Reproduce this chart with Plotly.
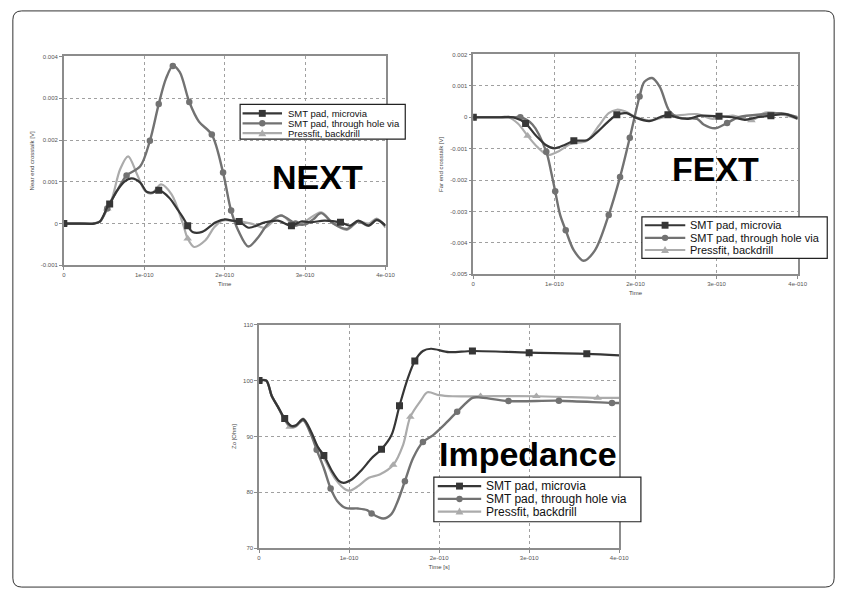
import plotly.graph_objects as go

W, H = 855, 597
FONT = "Liberation Sans, Arial, sans-serif"
TU = 1e-10  # time unit (s)

# ---------------- tick labels ----------------
x_tick_units = [0, 1, 2, 3, 4]
x_tick_text = ["0", "1e-010", "2e-010", "3e-010", "4e-010"]
next_ytick_vals = [-0.001, 0, 0.001, 0.002, 0.003, 0.004]
next_ytick_text = ["-0.001", "0", "0.001", "0.002", "0.003", "0.004"]
fext_ytick_vals = [-0.005, -0.004, -0.003, -0.002, -0.001, 0, 0.001, 0.002]
fext_ytick_text = ["-0.005", "-0.004", "-0.003", "-0.002", "-0.001", "0", "0.001", "0.002"]
imp_ytick_vals = [70, 80, 90, 100, 110]
imp_ytick_text = ["70", "80", "90", "100", "110"]

series_names = ["SMT pad, microvia", "SMT pad, through hole via", "Pressfit, backdrill"]

# ---------------- NEXT (time in 1e-10 s, value in mV) ----------------
next_micro_t = [0, 0.2, 0.375, 0.45, 0.54, 0.57, 0.66, 0.75, 0.845, 0.95, 1.03, 1.1, 1.18, 1.31, 1.42, 1.48,
                1.54, 1.60, 1.72, 1.89, 2.01, 2.09, 2.18, 2.30, 2.5, 2.66, 2.83, 2.95, 3.07, 3.24, 3.44, 3.56,
                3.66, 3.79, 3.89, 4.0]
next_micro_v = [0, 0, 0, 0.05, 0.39, 0.47, 0.78, 1.0, 1.08, 0.98, 0.76, 0.74, 0.80, 0.62, 0.32, 0.15,
                -0.05, -0.2, -0.2, 0.03, 0.1, 0.07, 0.05, -0.1, 0.03, 0.07, -0.05, 0.05, 0.03, 0.07, 0.03, -0.05,
                0.07, -0.05, 0.08, -0.05]
next_micro_mk = [0, 0.57, 1.18, 1.54, 2.18, 2.83, 3.44]

next_thru_t = [0, 0.2, 0.375, 0.45, 0.54, 0.57, 0.66, 0.78, 0.95, 1.07, 1.18, 1.27, 1.355, 1.44, 1.56, 1.68,
               1.84, 1.98, 2.08, 2.17, 2.295, 2.42, 2.54, 2.7, 2.88, 3.0, 3.1, 3.2, 3.35, 3.52, 3.66, 3.79,
               3.89, 4.0]
next_thru_v = [0, 0, 0, 0.05, 0.36, 0.47, 0.78, 1.15, 1.37, 1.98, 2.86, 3.47, 3.77, 3.63, 2.91, 2.44,
               2.13, 1.22, 0.31, -0.17, -0.55, -0.32, 0.0, 0.19, 0.0, -0.02, 0.1, 0.25, 0.0, -0.13, 0.05, -0.05,
               0.1, -0.05]
next_thru_mk = [0, 0.54, 0.78, 1.07, 1.18, 1.355, 1.56, 1.84, 1.98, 2.08, 2.88]

next_press_t = [0, 0.2, 0.375, 0.45, 0.54, 0.60, 0.70, 0.80, 0.91, 1.01, 1.09, 1.21, 1.34, 1.48, 1.54, 1.62,
                1.76, 1.87, 1.97, 2.09, 2.33, 2.5, 2.7, 2.87, 3.0, 3.2, 3.35, 3.52, 3.66, 3.79, 3.89, 4.0]
next_press_v = [0, 0, 0, 0.05, 0.36, 0.6, 1.3, 1.61, 1.18, 0.78, 0.72, 0.94, 0.7, 0.0, -0.36, -0.56,
                -0.4, -0.09, 0.07, 0.07, 0.0, -0.1, 0.2, -0.05, 0.05, 0.27, 0.0, -0.15, 0.05, 0.0, 0.12, -0.1]
next_press_mk = [0, 0.54, 1.54]

# ---------------- FEXT (time in 1e-10 s, value in mV) ----------------
fext_micro_t = [0, 0.3, 0.49, 0.645, 0.775, 0.9, 1.0, 1.12, 1.24, 1.40, 1.50, 1.67, 1.77, 1.89, 2.01, 2.17,
                2.30, 2.40, 2.5, 2.65, 2.8, 3.03, 3.2, 3.35, 3.5, 3.67, 3.85, 4.0]
fext_micro_v = [0, 0, 0, -0.2, -0.59, -0.89, -0.99, -0.89, -0.75, -0.73, -0.54, -0.125, 0.08, 0.13, -0.02, -0.12,
                0.0, 0.08, 0.0, -0.05, 0.05, 0.03, 0.0, -0.08, 0.0, 0.05, 0.1, -0.05]
fext_micro_mk = [0, 0.645, 1.24, 1.77, 2.40, 3.03, 3.67]

fext_thru_t = [0, 0.3, 0.49, 0.58, 0.73, 0.90, 0.96, 1.01, 1.07, 1.14, 1.24, 1.36, 1.50, 1.67, 1.81, 1.93,
               2.05, 2.11, 2.205, 2.30, 2.42, 2.54, 2.76, 2.84, 2.98, 3.13, 3.27, 3.59, 3.8, 4.0]
fext_thru_v = [0, 0, 0, 0.0, -0.23, -1.1, -1.74, -2.36, -3.1, -3.6, -4.24, -4.57, -4.24, -3.11, -1.9, -0.65,
               0.66, 1.13, 1.25, 0.97, 0.19, -0.02, -0.05, -0.23, -0.35, -0.18, 0.0, 0.1, 0.13, 0.0]
fext_thru_mk = [0, 0.58, 0.90, 1.01, 1.14, 1.67, 1.81, 1.93, 2.05, 3.13]

fext_press_t = [0, 0.3, 0.43, 0.55, 0.67, 0.795, 0.92, 1.04, 1.20, 1.40, 1.545, 1.67, 1.77, 1.87, 2.01, 2.17,
                2.35, 2.5, 2.76, 2.95, 3.2, 3.43, 3.6, 3.8, 4.0]
fext_press_v = [0, 0, 0, -0.2, -0.59, -0.96, -1.2, -1.1, -0.85, -0.75, -0.28, 0.13, 0.24, 0.19, 0.0, -0.1,
                0.0, 0.05, 0.1, -0.05, 0.05, -0.1, 0.15, 0.1, -0.05]
fext_press_mk = [0, 0.67, 3.43]

# ---------------- Impedance (time in 1e-10 s, value in Ohm) ----------------
imp_micro_t = [0, 0.08, 0.14, 0.21, 0.285, 0.357, 0.41, 0.49, 0.58, 0.65, 0.72, 0.81, 0.89, 0.94, 1.03, 1.14,
               1.25, 1.36, 1.47, 1.56, 1.65, 1.73, 1.82, 1.91, 2.11, 2.37, 3.0, 3.64, 4.0]
imp_micro_v = [100, 100, 97.3, 95.3, 93.2, 91.9, 92.0, 93.1, 90.8, 88.2, 86.6, 83.8, 82.0, 81.7, 82.3, 84.0,
               86.1, 87.7, 90.2, 95.5, 100.3, 103.5, 105.3, 105.7, 105.1, 105.3, 105.0, 104.8, 104.5]
imp_micro_mk = [0, 0.285, 0.72, 1.36, 1.56, 1.73, 2.37, 3.0, 3.64]

imp_thru_t = [0, 0.08, 0.14, 0.21, 0.285, 0.357, 0.41, 0.49, 0.58, 0.64, 0.72, 0.795, 0.87, 0.96, 1.1, 1.2,
              1.25, 1.38, 1.47, 1.54, 1.62, 1.71, 1.82, 1.93, 2.05, 2.2, 2.37, 2.44, 2.77, 3.33, 3.92, 4.0]
imp_thru_v = [100, 100, 97.3, 95.3, 93.0, 91.8, 91.9, 92.9, 90.2, 87.6, 84.3, 80.7, 78.4, 77.2, 77.1, 76.8,
              76.2, 75.3, 76.1, 78.4, 82.0, 86.1, 89.0, 90.2, 92.0, 94.4, 96.9, 97.0, 96.35, 96.4, 96.0, 96.0]
imp_thru_mk = [0, 0.64, 0.795, 1.25, 1.62, 1.82, 2.2, 2.77, 3.33, 3.92]

imp_press_t = [0, 0.08, 0.14, 0.21, 0.285, 0.34, 0.41, 0.49, 0.63, 0.74, 0.85, 0.96, 1.01, 1.1, 1.22, 1.34,
               1.49, 1.60, 1.68, 1.80, 1.87, 2.0, 2.15, 2.46, 3.08, 3.76, 4.0]
imp_press_v = [100, 100, 97.3, 95.3, 93.0, 91.7, 91.8, 93.2, 88.8, 85.5, 82.3, 80.5, 80.3, 81.1, 82.6, 83.2,
               84.9, 88.5, 93.5, 96.5, 97.9, 97.4, 97.2, 97.2, 97.2, 96.9, 96.9]
imp_press_mk = [0, 0.34, 1.49, 1.68, 2.46, 3.08, 3.76]

# ---------------- styles ----------------
COL = ["#363636", "#727272", "#ababab"]
SYM = ["square", "circle", "triangle-up"]
LW = [2.2, 2.4, 2.2]
MS = [7, 6.5, 7.5]

fig = go.Figure()


def add_series(t, v, mk, idx, xa, ya, vscale):
    x = [ti * TU for ti in t]
    y = [vi * vscale for vi in v]
    fig.add_trace(go.Scatter(x=x, y=y, mode="lines", xaxis=xa, yaxis=ya,
                             line=dict(color=COL[idx], width=LW[idx], shape="spline", smoothing=0.9),
                             name=series_names[idx], showlegend=False, hoverinfo="skip"))
    sel = [i for i, ti in enumerate(t) if ti in mk]
    fig.add_trace(go.Scatter(x=[x[i] for i in sel], y=[y[i] for i in sel], mode="markers",
                             xaxis=xa, yaxis=ya,
                             marker=dict(symbol=SYM[idx], size=MS[idx], color=COL[idx]),
                             name=series_names[idx], showlegend=False, hoverinfo="skip"))


panels = [
    ("x", "y", 1e-3, [(next_press_t, next_press_v, next_press_mk, 2),
                      (next_thru_t, next_thru_v, next_thru_mk, 1),
                      (next_micro_t, next_micro_v, next_micro_mk, 0)]),
    ("x2", "y2", 1e-3, [(fext_press_t, fext_press_v, fext_press_mk, 2),
                        (fext_thru_t, fext_thru_v, fext_thru_mk, 1),
                        (fext_micro_t, fext_micro_v, fext_micro_mk, 0)]),
    ("x3", "y3", 1.0, [(imp_press_t, imp_press_v, imp_press_mk, 2),
                       (imp_thru_t, imp_thru_v, imp_thru_mk, 1),
                       (imp_micro_t, imp_micro_v, imp_micro_mk, 0)]),
]
for xa, ya, sc, ser in panels:
    for t, v, mk, idx in ser:
        add_series(t, v, mk, idx, xa, ya, sc)


def px(x):
    return x / W


def py(y):
    return 1 - y / H


axis_common = dict(showline=True, mirror=True, linecolor="#8c8c8c", linewidth=1.5,
                   showgrid=True, gridcolor="#a0a0a0", griddash="dot", gridwidth=1,
                   zeroline=False, ticks="outside", ticklen=3, tickcolor="#8c8c8c",
                   tickfont=dict(family=FONT, size=6, color="#555555"))
title_font = dict(family=FONT, size=6, color="#444444")
x_ticks = [u * TU for u in x_tick_units]


def xaxis(dom, anchor, title):
    return dict(axis_common, domain=dom, anchor=anchor, range=[0, 4 * TU],
                tickvals=x_ticks, ticktext=x_tick_text,
                title=dict(text=title, font=title_font, standoff=5))


def yaxis(dom, anchor, rng, vals, text, title):
    return dict(axis_common, domain=dom, anchor=anchor, range=rng,
                tickvals=vals, ticktext=text,
                title=dict(text=title, font=title_font, standoff=6))


fig.update_layout(
    width=W, height=H, autosize=False,
    margin=dict(l=0, r=0, t=0, b=0),
    paper_bgcolor="white", plot_bgcolor="white",
    showlegend=False,
    xaxis=xaxis([px(62.7), px(389)], "y", "Time"),
    yaxis=yaxis([py(265), py(54)], "x", [-0.001, 0.004], next_ytick_vals, next_ytick_text,
                "Near end crosstalk [V]"),
    xaxis2=xaxis([px(478), px(807)], "y2", "Time"),
    yaxis2=yaxis([py(274), py(52)], "x2", [-0.005, 0.002], fext_ytick_vals, fext_ytick_text,
                 "Far end crosstalk [V]"),
    xaxis3=xaxis([px(260.7), px(626)], "y3", "Time [s]"),
    yaxis3=yaxis([py(550.7), py(325)], "x3", [70, 110], imp_ytick_vals, imp_ytick_text,
                 "Zo [Ohm]"),
)

shapes = []
annotations = []

# outer rounded frame
x0, y0, x1, y1, r = 11, 8, 844, 590, 9
path = (f"M {px(x0 + r)},{py(y0)} L {px(x1 - r)},{py(y0)} Q {px(x1)},{py(y0)} {px(x1)},{py(y0 + r)} "
        f"L {px(x1)},{py(y1 - r)} Q {px(x1)},{py(y1)} {px(x1 - r)},{py(y1)} "
        f"L {px(x0 + r)},{py(y1)} Q {px(x0)},{py(y1)} {px(x0)},{py(y1 - r)} "
        f"L {px(x0)},{py(y0 + r)} Q {px(x0)},{py(y0)} {px(x0 + r)},{py(y0)} Z")
shapes.append(dict(type="path", xref="paper", yref="paper", path=path,
                   line=dict(color="#333333", width=1)))


def add_legend(box, rows_y, lx0, lx1, tx, fsize):
    bx0, by0, bx1, by1 = box
    shapes.append(dict(type="rect", xref="paper", yref="paper",
                       x0=px(bx0), y0=py(by1), x1=px(bx1), y1=py(by0),
                       fillcolor="white", line=dict(color="#222222", width=1.2), layer="above"))
    for i, ry in enumerate(rows_y):
        shapes.append(dict(type="line", xref="paper", yref="paper",
                           x0=px(lx0), y0=py(ry), x1=px(lx1), y1=py(ry),
                           line=dict(color=COL[i], width=2.2), layer="above"))
        cx = (lx0 + lx1) / 2
        s = 3.5
        if i == 0:
            shapes.append(dict(type="rect", xref="paper", yref="paper",
                               x0=px(cx - s), y0=py(ry + s), x1=px(cx + s), y1=py(ry - s),
                               fillcolor=COL[i], line=dict(width=0), layer="above"))
        elif i == 1:
            shapes.append(dict(type="circle", xref="paper", yref="paper",
                               x0=px(cx - 3.2), y0=py(ry + 3.2), x1=px(cx + 3.2), y1=py(ry - 3.2),
                               fillcolor=COL[i], line=dict(width=0), layer="above"))
        else:
            tri = (f"M {px(cx - 4)},{py(ry + 3)} L {px(cx + 4)},{py(ry + 3)} "
                   f"L {px(cx)},{py(ry - 4)} Z")
            shapes.append(dict(type="path", xref="paper", yref="paper", path=tri,
                               fillcolor=COL[i], line=dict(width=0), layer="above"))
        annotations.append(dict(xref="paper", yref="paper", x=px(tx), y=py(ry),
                                xanchor="left", yanchor="middle", showarrow=False,
                                text=series_names[i],
                                font=dict(family=FONT, size=fsize, color="#111111")))


add_legend((241.5, 102.5, 409, 137.5), [111.5, 121.5, 131.5], 244, 284, 288, 9.5)
add_legend((649, 216, 837, 258), [224.5, 237.2, 249.5], 652, 693, 696, 11)
add_legend((438, 479, 648, 524), [488, 501, 513.7], 442, 486, 489, 12)

for label, cx, cy in [("NEXT", 319.7, 176), ("FEXT", 724, 167.5), ("Impedance", 533.8, 456)]:
    annotations.append(dict(xref="paper", yref="paper", x=px(cx), y=py(cy),
                            xanchor="center", yanchor="middle", showarrow=False,
                            text=f"<b>{label}</b>",
                            font=dict(family=FONT, size=34, color="#000000")))

fig.update_layout(shapes=shapes, annotations=annotations)
fig.write_html("out.html", config={"displayModeBar": False},
               post_script="document.body.style.margin='0';")
